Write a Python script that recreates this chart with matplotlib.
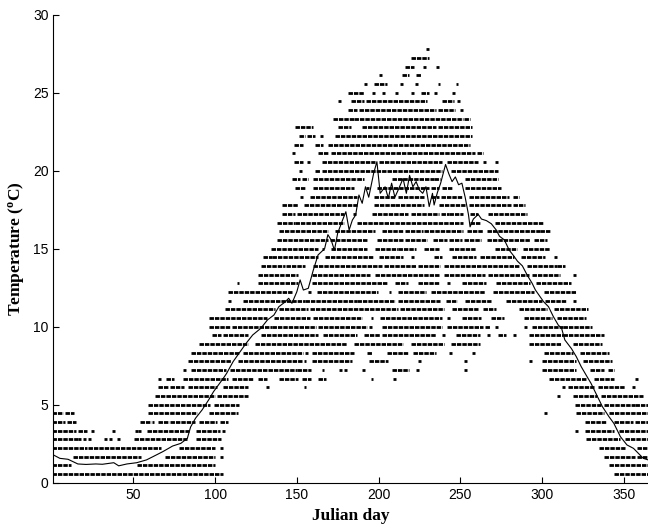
import numpy as np
import matplotlib
matplotlib.use("Agg")
import matplotlib.pyplot as plt

plt.rcParams['mathtext.fontset'] = 'custom'
plt.rcParams['mathtext.bf'] = 'Liberation Serif:bold'
plt.rcParams['mathtext.rm'] = 'Liberation Serif:bold'

# Logged readings were whole degrees F; runs of days (start, end) seen at each level
runs_by_degF = {
    33: [(1, 104), (345, 365)],
    34: [(1, 11), (53, 99), (342, 365)],
    35: [(14, 54), (70, 99), (104, 104), (339, 356), (359, 365)],
    36: [(1, 21), (23, 66), (79, 99), (104, 104), (336, 350), (359, 365)],
    37: [(1, 15), (17, 17), (20, 20), (23, 23), (33, 33), (36, 36), (41, 41),
         (51, 82), (89, 103), (328, 347), (352, 365)],
    38: [(1, 14), (17, 21), (25, 25), (38, 38), (52, 52), (54, 54), (59, 83),
         (89, 102), (105, 105), (321, 321), (327, 343), (348, 365)],
    39: [(1, 7), (10, 14), (55, 60), (62, 62), (66, 71), (73, 87), (91, 100),
         (104, 107), (327, 338), (345, 355), (358, 365)],
    40: [(1, 6), (9, 13), (60, 88), (97, 113), (302, 302), (322, 337), (342, 365)],
    41: [(60, 96), (100, 114), (321, 335), (339, 356), (358, 365)],
    42: [(64, 69), (71, 99), (102, 119), (310, 310), (320, 333), (337, 361)],
    43: [(66, 70), (73, 80), (84, 100), (106, 119), (132, 132), (155, 155),
         (313, 313), (317, 331), (335, 350), (356, 356)],
    44: [(66, 66), (71, 74), (81, 107), (111, 122), (127, 131), (140, 150),
         (154, 158), (164, 167), (196, 196), (210, 210), (305, 326), (333, 343),
         (358, 358)],
    45: [(81, 81), (86, 106), (110, 131), (133, 149), (151, 158), (166, 166),
         (177, 177), (180, 180), (191, 191), (209, 218), (224, 224), (253, 253),
         (301, 320), (330, 337), (341, 343)],
    46: [(84, 109), (115, 152), (155, 155), (160, 174), (177, 183), (195, 205),
         (225, 225), (253, 253), (293, 293), (301, 320), (326, 342)],
    47: [(86, 114), (118, 153), (156, 156), (160, 184), (194, 195), (206, 217),
         (222, 234), (244, 244), (258, 258), (302, 318), (324, 340)],
    48: [(91, 119), (125, 180), (186, 214), (221, 239), (245, 261), (293, 311),
         (320, 336)],
    49: [(99, 103), (106, 119), (129, 162), (167, 186), (192, 200), (203, 234),
         (240, 240), (248, 261), (267, 267), (274, 277), (283, 283), (293, 312),
         (314, 337)],
    50: [(97, 108), (111, 134), (136, 161), (164, 192), (195, 195), (203, 238),
         (243, 263), (266, 267), (272, 272), (290, 290), (295, 312), (314, 330)],
    51: [(97, 131), (137, 157), (161, 189), (196, 196), (202, 238), (243, 243),
         (252, 262), (270, 276), (290, 305), (310, 326)],
    52: [(107, 136), (140, 156), (159, 211), (214, 239), (246, 260), (265, 271),
         (287, 302), (308, 327)],
    53: [(109, 109), (118, 154), (156, 186), (188, 209), (213, 237), (242, 247),
         (254, 268), (279, 299), (303, 314), (320, 320)],
    54: [(109, 146), (158, 158), (163, 199), (207, 207), (213, 228), (233, 264),
         (271, 294), (302, 320)],
    55: [(114, 114), (127, 150), (160, 204), (211, 217), (225, 236), (243, 243),
         (252, 265), (273, 292), (297, 317)],
    56: [(127, 150), (160, 194), (199, 236), (241, 264), (268, 291), (295, 310),
         (320, 320)],
    57: [(129, 142), (144, 154), (161, 201), (204, 222), (225, 237), (241, 285),
         (292, 308), (310, 313)],
    58: [(130, 134), (136, 162), (168, 196), (201, 214), (221, 221), (235, 238),
         (246, 259), (263, 282), (288, 301), (308, 308)],
    59: [(135, 162), (166, 166), (172, 192), (199, 211), (213, 222), (229, 236),
         (244, 259), (272, 284), (289, 304)],
    60: [(139, 168), (171, 192), (200, 214), (217, 229), (234, 241), (244, 250),
         (253, 262), (267, 292), (296, 302)],
    61: [(140, 168), (174, 197), (203, 214), (217, 226), (229, 251), (255, 263),
         (267, 298), (300, 304)],
    62: [(139, 148), (150, 178), (188, 251), (257, 261), (272, 300)],
    63: [(142, 148), (151, 178), (185, 185), (197, 217), (221, 236), (239, 242),
         (244, 251), (257, 260), (268, 290)],
    64: [(142, 150), (155, 186), (198, 209), (211, 227), (238, 252), (256, 280),
         (283, 289)],
    65: [(153, 153), (159, 186), (198, 209), (213, 227), (233, 236), (239, 250),
         (256, 279), (283, 285)],
    66: [(150, 154), (161, 184), (193, 193), (200, 230), (233, 236), (240, 244),
         (254, 274)],
    67: [(148, 151), (154, 156), (161, 186), (188, 190), (209, 233), (235, 237),
         (254, 272)],
    68: [(152, 152), (162, 163), (166, 238), (245, 272)],
    69: [(149, 153), (157, 157), (166, 197), (201, 238), (243, 260), (265, 265),
         (272, 272)],
    70: [(148, 148), (164, 168), (172, 258), (261, 263)],
    71: [(149, 153), (162, 165), (170, 255)],
    72: [(152, 154), (157, 160), (165, 165), (174, 256)],
    73: [(150, 159), (176, 182), (191, 234), (237, 256)],
    74: [(173, 184), (186, 251), (253, 255)],
    75: [(182, 186), (189, 234), (237, 246), (251, 251)],
    76: [(176, 176), (184, 190), (193, 229), (240, 245), (249, 249)],
    77: [(182, 190), (197, 197), (203, 203), (211, 211), (221, 221), (227, 230),
         (235, 235), (246, 246)],
    78: [(192, 192), (198, 204), (214, 214), (223, 223), (237, 237), (248, 248)],
    79: [(201, 201), (215, 218), (224, 225)],
    80: [(217, 221), (228, 228), (236, 236)],
    81: [(221, 230)],
    82: [(230, 230)],
}

# daily mean curve
mean_day = [1, 5, 10, 16, 21, 27, 31, 38, 41, 46, 52, 58, 62, 68, 74, 79, 83, 85,
            88, 92, 96, 99, 102, 105, 107, 111, 116, 119, 123, 128, 132, 136, 139,
            143, 145, 147, 150, 152, 154, 157, 160, 163, 167, 169, 171, 173, 175,
            178, 180, 182, 184, 186, 188, 190, 192, 194, 197, 199, 201, 204, 206,
            208, 210, 212, 215, 217, 219, 221, 223, 225, 227, 229, 231, 233, 234,
            236, 238, 240, 241, 243, 245, 247, 249, 251, 253, 255, 256, 258, 261,
            263, 266, 269, 272, 274, 277, 280, 283, 285, 288, 291, 294, 296, 299,
            301, 304, 307, 310, 312, 314, 318, 321, 324, 327, 330, 334, 337, 341,
            344, 348, 352, 356, 359, 362, 365]
mean_temp = [1.78, 1.56, 1.5, 1.2, 1.17, 1.2, 1.18, 1.28, 1.08, 1.2, 1.28, 1.46,
             1.67, 1.99, 2.35, 2.52, 2.84, 3.57, 4.13, 4.66, 5.3, 5.83, 6.26, 6.69,
             7.0, 7.76, 8.5, 8.94, 9.47, 9.9, 10.43, 10.75, 11.28, 11.6, 11.82,
             11.5, 12.24, 13.0, 12.35, 12.46, 13.6, 14.6, 15.0, 15.9, 15.56, 14.9,
             16.0, 16.84, 17.37, 16.2, 16.84, 17.16, 18.44, 17.91, 18.97, 18.3,
             19.83, 20.58, 18.55, 18.97, 18.23, 19.2, 18.3, 18.76, 19.5, 18.55,
             19.7, 18.97, 19.3, 18.76, 18.55, 18.97, 17.7, 18.55, 17.8, 18.6, 19.2,
             20.0, 20.4, 19.8, 19.3, 19.6, 19.1, 19.2, 18.3, 17.2, 16.4, 16.9,
             17.2, 16.9, 16.8, 16.6, 16.2, 15.8, 15.56, 14.9, 14.5, 14.2, 13.9,
             13.3, 12.78, 12.35, 11.9, 11.6, 11.28, 10.64, 10.1, 9.9, 9.15, 8.6,
             8.08, 7.44, 6.9, 6.37, 5.51, 4.87, 4.23, 3.8, 2.95, 2.42, 2.2, 1.88,
             1.56, 1.46]

fig = plt.figure(figsize=(6.48, 5.31), dpi=100)
ax = fig.add_axes([0.0823, 0.091, 0.918, 0.8813])

# each band is a string of dots, so draw runs as tightly dashed segments
for degF, runs in runs_by_degF.items():
    level = (degF - 32) * 5.0 / 9.0
    starts = np.array([r[0] for r in runs]) - 0.9
    ends = np.array([r[1] for r in runs]) + 0.9
    ax.hlines([level] * len(runs), starts, ends, colors='k', linewidth=2.0,
              linestyles=[(0, (1.6, 0.35))])

ax.plot(mean_day, mean_temp, color='k', linewidth=0.8)

ax.set_xlim(1, 365)
ax.set_ylim(0, 30)
ax.set_xticks([50, 100, 150, 200, 250, 300, 350])
ax.set_yticks([0, 5, 10, 15, 20, 25, 30])
ax.spines['top'].set_visible(False)
ax.spines['right'].set_visible(False)
ax.tick_params(direction='in', length=4, labelsize=10)
for lab in ax.get_xticklabels() + ax.get_yticklabels():
    lab.set_fontfamily('Liberation Sans')

ax.set_xlabel('Julian day', family='Liberation Serif', fontweight='bold',
              fontsize=12.5, labelpad=5)
ax.set_ylabel(r'Temperature ($\mathbf{^o}$C)', family='Liberation Serif',
              fontweight='bold', fontsize=12.5, labelpad=5)

fig.savefig('out.png', dpi=100)
